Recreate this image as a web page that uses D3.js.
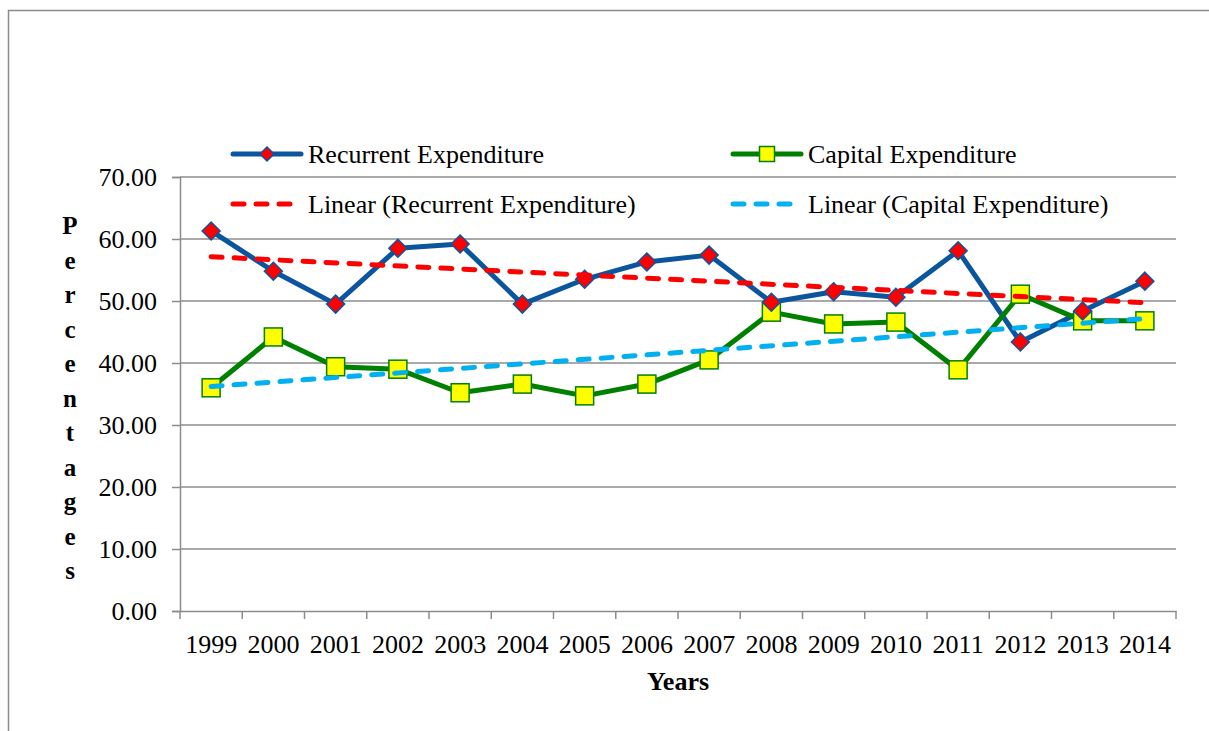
<!DOCTYPE html>
<html>
<head>
<meta charset="utf-8">
<script src="https://cdn.jsdelivr.net/npm/d3@7"></script>
<style>
  body { margin: 0; background: #fff; }
  svg text { font-family: "Liberation Serif", "Times New Roman", serif; fill: #000; }
</style>
</head>
<body>
<div id="chart"></div>
<script>
// data
var years = ["1999", "2000", "2001", "2002", "2003", "2004", "2005", "2006",
             "2007", "2008", "2009", "2010", "2011", "2012", "2013", "2014"];
var recurrent = [61.3, 54.8, 49.5, 58.5, 59.2, 49.5, 53.5, 56.3,
                 57.4, 49.8, 51.5, 50.6, 58.1, 43.4, 48.4, 53.2];
var capital = [36.0, 44.2, 39.4, 39.0, 35.2, 36.6, 34.7, 36.6,
               40.5, 48.2, 46.3, 46.6, 38.9, 51.1, 46.8, 46.8];
var yTicks = [0, 10, 20, 30, 40, 50, 60, 70];
var yLabel = "Percentages";

var W = 1209, H = 731;
var margin = { top: 177, right: 33, bottom: 120, left: 180 },
    width = W - margin.left - margin.right,
    height = H - margin.top - margin.bottom;

var blue = "#0b559f", green = "#008000", red = "#ff0000", lblue = "#00b0f0", grey = "#8c8c8c";

var svg = d3.select("#chart").append("svg")
    .attr("width", W)
    .attr("height", H);

// outer frame (only left and top edges show)
svg.append("path")
    .attr("d", "M8.5," + H + "V10.5H" + W)
    .attr("fill", "none")
    .attr("stroke", grey)
    .attr("stroke-width", 1.5);

var g = svg.append("g")
    .attr("transform", "translate(" + margin.left + "," + margin.top + ")");

var x = d3.scaleBand().domain(years).range([0, width]);
var y = d3.scaleLinear().domain([0, 70]).range([height, 0]);
var cx = function(d, i) { return x(years[i]) + x.bandwidth() / 2; };

// gridlines
g.selectAll(".grid")
    .data(yTicks.slice(1))
    .enter().append("line")
    .attr("x1", 0).attr("x2", width)
    .attr("y1", function(d) { return y(d); })
    .attr("y2", function(d) { return y(d); })
    .attr("stroke", grey)
    .attr("stroke-width", 1.5);

// y axis
var yAxis = g.append("g")
    .call(d3.axisLeft(y).tickValues(yTicks).tickFormat(d3.format(".2f")).tickSize(8).tickPadding(15));
yAxis.attr("font-family", null).attr("font-size", null);
yAxis.select(".domain").attr("stroke", grey).attr("stroke-width", 1.5);
yAxis.selectAll(".tick line").attr("stroke", grey).attr("stroke-width", 1.5);
yAxis.selectAll(".tick text").style("font-size", "26px").attr("dy", "0.33em");

// x axis: ticks at category boundaries
var xAxis = g.append("g")
    .attr("transform", "translate(0," + height + ")")
    .call(d3.axisBottom(x).tickSize(0));
xAxis.attr("font-family", null).attr("font-size", null);
xAxis.select(".domain").attr("stroke", grey).attr("stroke-width", 1.5);
xAxis.selectAll(".tick text").style("font-size", "26px").attr("dy", null).attr("y", 42);
xAxis.selectAll(".bound")
    .data(years.concat(["end"]))
    .enter().append("line")
    .attr("x1", function(d, i) { return i * x.bandwidth(); })
    .attr("x2", function(d, i) { return i * x.bandwidth(); })
    .attr("y1", 0).attr("y2", 8)
    .attr("stroke", grey)
    .attr("stroke-width", 1.5);

// axis titles
g.append("text")
    .attr("x", width / 2)
    .attr("y", height + 79)
    .attr("text-anchor", "middle")
    .style("font-size", "26px")
    .style("font-weight", "bold")
    .text("Years");

g.selectAll(".ylab")
    .data(yLabel.split(""))
    .enter().append("text")
    .attr("x", 70 - margin.left)
    .attr("y", function(d, i) { return 234 - margin.top + i * 34.5; })
    .attr("text-anchor", "middle")
    .style("font-size", "25px")
    .style("font-weight", "bold")
    .text(function(d) { return d; });

// linear trend (least squares, as the chart's trendline)
function trend(vals) {
    var n = vals.length, xs = d3.range(n);
    var mx = d3.mean(xs), my = d3.mean(vals);
    var b = d3.sum(xs, function(i) { return (i - mx) * (vals[i] - my); }) /
            d3.sum(xs, function(i) { return (i - mx) * (i - mx); });
    var a = my - b * mx;
    return [a, a + b * (n - 1)];
}

var line = d3.line().x(cx).y(function(d) { return y(d); });

function drawTrend(vals, color) {
    var t = trend(vals);
    g.append("line")
        .attr("x1", cx(null, 0)).attr("x2", cx(null, vals.length - 1))
        .attr("y1", y(t[0])).attr("y2", y(t[1]))
        .attr("stroke", color)
        .attr("stroke-width", 5)
        .attr("stroke-dasharray", "11,12")
        .attr("stroke-linecap", "round");
}

// series lines
g.append("path").datum(recurrent)
    .attr("d", line).attr("fill", "none")
    .attr("stroke", blue).attr("stroke-width", 5).attr("stroke-linejoin", "round");
g.append("path").datum(capital)
    .attr("d", line).attr("fill", "none")
    .attr("stroke", green).attr("stroke-width", 5).attr("stroke-linejoin", "round");

function diamond(sel, r) {
    sel.attr("d", "M0," + (-r) + "L" + r + ",0L0," + r + "L" + (-r) + ",0Z")
        .attr("fill", red).attr("stroke", blue).attr("stroke-width", 1.5);
}
function square(sel, s) {
    sel.attr("x", -s / 2).attr("y", -s / 2).attr("width", s).attr("height", s)
        .attr("fill", "#ffff00").attr("stroke", green).attr("stroke-width", 1.5);
}

g.selectAll(".cap")
    .data(capital)
    .enter().append("rect")
    .attr("transform", function(d, i) { return "translate(" + cx(d, i) + "," + y(d) + ")"; })
    .call(square, 18);

g.selectAll(".rec")
    .data(recurrent)
    .enter().append("path")
    .attr("transform", function(d, i) { return "translate(" + cx(d, i) + "," + y(d) + ")"; })
    .call(diamond, 9);

drawTrend(recurrent, red);
drawTrend(capital, lblue);

// legend
var legend = [
    { name: "Recurrent Expenditure", x: 231, y: 154, color: blue, type: "diamond" },
    { name: "Capital Expenditure", x: 731, y: 154, color: green, type: "square" },
    { name: "Linear (Recurrent Expenditure)", x: 231, y: 204, color: red, type: "dash" },
    { name: "Linear (Capital Expenditure)", x: 731, y: 204, color: lblue, type: "dash" }
];
var lg = svg.selectAll(".leg").data(legend).enter().append("g")
    .attr("transform", function(d) { return "translate(" + d.x + "," + d.y + ")"; });
lg.append("line")
    .attr("x1", 2).attr("x2", function(d) { return d.type == "dash" ? 62 : 70; })
    .attr("y1", 0).attr("y2", 0)
    .attr("stroke", function(d) { return d.color; })
    .attr("stroke-width", 5)
    .attr("stroke-linecap", "round")
    .attr("stroke-dasharray", function(d) { return d.type == "dash" ? "11,12" : null; });
lg.filter(function(d) { return d.type == "diamond"; }).append("path")
    .attr("transform", "translate(36,0)").call(diamond, 7);
lg.filter(function(d) { return d.type == "square"; }).append("rect")
    .attr("transform", "translate(36,0)").call(square, 15);
lg.append("text")
    .attr("x", 77).attr("y", 9)
    .style("font-size", "26px")
    .text(function(d) { return d.name; });
</script>
</body>
</html>
